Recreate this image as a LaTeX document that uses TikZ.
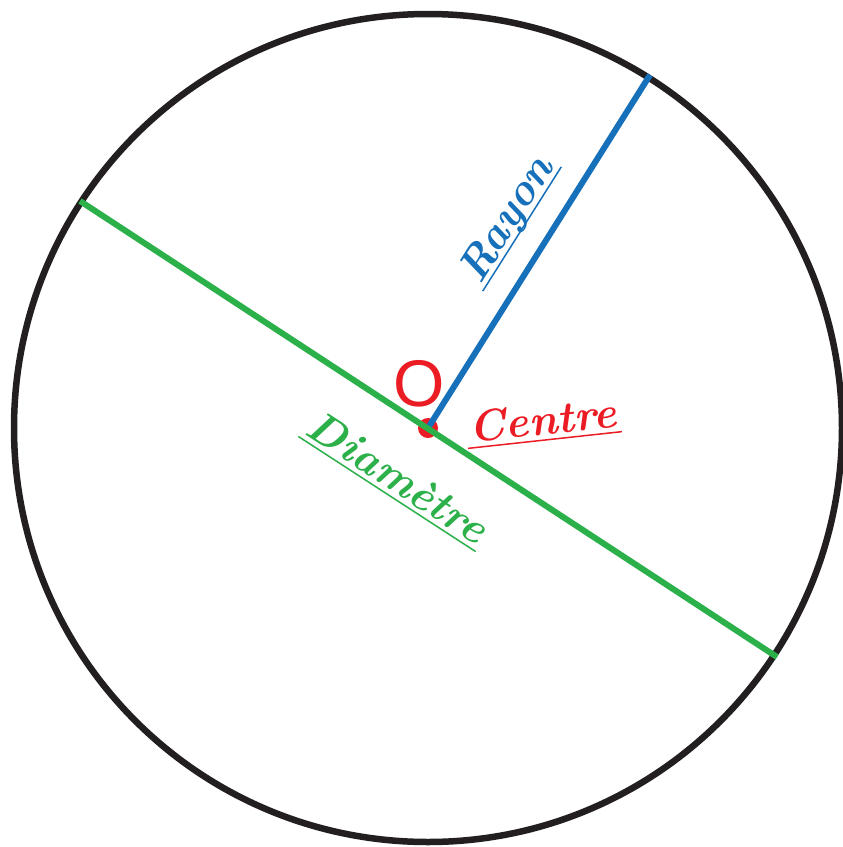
\documentclass[tikz,border=0pt]{standalone}
\usepackage{fontspec}
\newfontfamily\ofont{Liberation Sans}
\usetikzlibrary{positioning}
\definecolor{cblack}{HTML}{231F20}
\definecolor{cblue}{HTML}{1670BA}
\definecolor{cgreen}{HTML}{2BB04A}
\definecolor{cred}{HTML}{EC1C24}

\begin{document}
\begin{tikzpicture}[x=1pt,y=-1pt,
      lbl/.style={font=\fontsize{44}{44}\selectfont\bfseries\itshape,anchor=south,
                  inner xsep=3pt,inner ysep=5pt,text depth=0pt},
      uline/.style={line width=1.5pt}]
    \useasboundingbox[fill=white] (0,0) rectangle (843,847);
    \coordinate (O)  at (428,428);
    \coordinate (d1) at (80,201);
    \coordinate (d2) at (777,657);
    \coordinate (r1) at (650,75);
    \draw[cblack,line width=6.5pt] (O) circle[radius=414];
    \fill[cred] (O) circle[radius=10];
    \draw[cblue,line width=6pt] (O) -- (r1);
    \draw[cgreen,line width=6pt] (d1) -- (d2);
    % labels
    \node[inner sep=0pt,text=cred,font=\ofont\fontsize{66}{66}\selectfont] (oname) at (419,384) {O};
    \node[lbl,text=cblue,rotate=57.7] (rayon) at (522,229) {Rayon};
    \node[lbl,text=cred,rotate=6.2] (centre) at (545,440) {Centre};
    \node[lbl,text=cgreen,rotate=-33] (diam) at (387,494) {Diamètre};
    \draw[uline,cblue]  (rayon.south west)  -- (rayon.south east);
    \draw[uline,cred]   (centre.south west) -- (centre.south east);
    \draw[uline,cgreen] (diam.south west)   -- (diam.south east);
\end{tikzpicture}
\end{document}
